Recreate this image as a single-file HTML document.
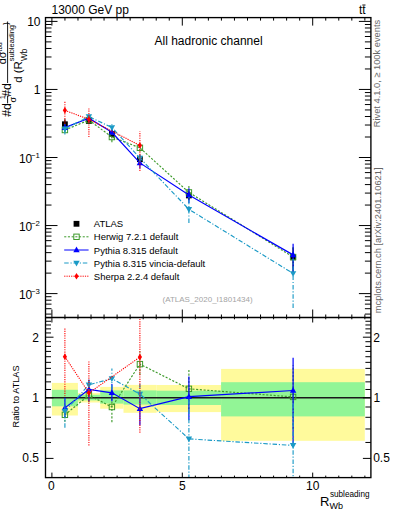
<!DOCTYPE html>
<html><head><meta charset="utf-8"><style>html,body{margin:0;padding:0;background:#fff;width:393px;height:512px;overflow:hidden}svg{display:block}text{font-family:"Liberation Sans",sans-serif}</style></head>
<body><svg width="393" height="512" viewBox="0 0 393 512" font-family="Liberation Sans, sans-serif">
<rect x="0" y="0" width="393" height="512" fill="#fff"/>
<defs>
<clipPath id="cm"><rect x="45.5" y="17.6" width="325.4" height="299.9"/></clipPath>
<clipPath id="cr"><rect x="45.5" y="317.5" width="325.4" height="160.10000000000002"/></clipPath>
</defs>
<g clip-path="url(#cr)">
<rect x="51.90" y="382.90" width="26.00" height="32.60" fill="#fffa9c"/>
<rect x="77.90" y="393.10" width="22.30" height="9.40" fill="#fffa9c"/>
<rect x="100.20" y="386.90" width="23.30" height="21.80" fill="#fffa9c"/>
<rect x="123.50" y="384.90" width="33.10" height="27.90" fill="#fffa9c"/>
<rect x="156.60" y="385.00" width="64.50" height="27.10" fill="#fffa9c"/>
<rect x="221.10" y="368.90" width="143.70" height="71.90" fill="#fffa9c"/>
<rect x="51.90" y="389.80" width="26.00" height="16.50" fill="#92f596"/>
<rect x="77.90" y="394.80" width="22.30" height="5.60" fill="#92f596"/>
<rect x="100.20" y="390.40" width="23.30" height="13.20" fill="#92f596"/>
<rect x="123.50" y="390.40" width="33.10" height="14.20" fill="#92f596"/>
<rect x="156.60" y="390.70" width="64.50" height="14.30" fill="#92f596"/>
<rect x="221.10" y="382.20" width="143.70" height="34.20" fill="#92f596"/>
</g>
<g clip-path="url(#cr)">
<line x1="45.5" y1="397.8" x2="370.9" y2="397.8" stroke="#1a1a1a" stroke-width="1.4"/>
<path d="M64.90,414.83 L88.90,395.22 L111.90,407.01 L139.90,364.12 L188.90,388.83 L293.10,396.93" fill="none" stroke="#3d9a2b" stroke-width="1.15" stroke-dasharray="2.1,1.6"/>
<line x1="64.90" y1="421.79" x2="64.90" y2="407.01" stroke="#3d9a2b" stroke-width="1.15" stroke-dasharray="2.1,1.6"/>
<line x1="88.90" y1="402.28" x2="88.90" y2="387.89" stroke="#3d9a2b" stroke-width="1.15" stroke-dasharray="2.1,1.6"/>
<line x1="111.90" y1="422.14" x2="111.90" y2="397.80" stroke="#3d9a2b" stroke-width="1.15" stroke-dasharray="2.1,1.6"/>
<line x1="139.90" y1="374.86" x2="139.90" y2="351.41" stroke="#3d9a2b" stroke-width="1.15" stroke-dasharray="2.1,1.6"/>
<line x1="188.90" y1="408.98" x2="188.90" y2="369.01" stroke="#3d9a2b" stroke-width="1.15" stroke-dasharray="2.1,1.6"/>
<line x1="293.10" y1="428.98" x2="293.10" y2="365.32" stroke="#3d9a2b" stroke-width="1.15" stroke-dasharray="2.1,1.6"/>
<rect x="62.20" y="412.13" width="5.4" height="5.4" fill="none" stroke="#3d9a2b" stroke-width="1.0"/>
<rect x="86.20" y="392.52" width="5.4" height="5.4" fill="none" stroke="#3d9a2b" stroke-width="1.0"/>
<rect x="109.20" y="404.31" width="5.4" height="5.4" fill="none" stroke="#3d9a2b" stroke-width="1.0"/>
<rect x="137.20" y="361.42" width="5.4" height="5.4" fill="none" stroke="#3d9a2b" stroke-width="1.0"/>
<rect x="186.20" y="386.13" width="5.4" height="5.4" fill="none" stroke="#3d9a2b" stroke-width="1.0"/>
<rect x="290.40" y="394.23" width="5.4" height="5.4" fill="none" stroke="#3d9a2b" stroke-width="1.0"/>
<path d="M64.90,407.89 L88.90,389.47 L111.90,392.79 L139.90,408.68 L188.90,396.67 L293.10,390.51" fill="none" stroke="#0000ff" stroke-width="1.2" />
<line x1="64.90" y1="417.31" x2="64.90" y2="397.80" stroke="#0000ff" stroke-width="1.2" />
<line x1="88.90" y1="401.37" x2="88.90" y2="379.70" stroke="#0000ff" stroke-width="1.2" />
<line x1="111.90" y1="401.37" x2="111.90" y2="384.07" stroke="#0000ff" stroke-width="1.2" />
<line x1="139.90" y1="425.31" x2="139.90" y2="393.53" stroke="#0000ff" stroke-width="1.2" />
<line x1="188.90" y1="420.31" x2="188.90" y2="376.49" stroke="#0000ff" stroke-width="1.2" />
<line x1="293.10" y1="446.94" x2="293.10" y2="357.81" stroke="#0000ff" stroke-width="1.2" />
<path d="M64.90,404.49 L68.10,410.19 L61.70,410.19 Z" fill="#0000ff"/>
<path d="M88.90,386.07 L92.10,391.77 L85.70,391.77 Z" fill="#0000ff"/>
<path d="M111.90,389.39 L115.10,395.09 L108.70,395.09 Z" fill="#0000ff"/>
<path d="M139.90,405.28 L143.10,410.98 L136.70,410.98 Z" fill="#0000ff"/>
<path d="M188.90,393.27 L192.10,398.97 L185.70,398.97 Z" fill="#0000ff"/>
<path d="M293.10,387.11 L296.30,392.81 L289.90,392.81 Z" fill="#0000ff"/>
<path d="M64.90,411.39 L88.90,384.82 L111.90,378.64 L139.90,394.04 L188.90,438.89 L293.10,445.42" fill="none" stroke="#1b9ac6" stroke-width="1.15" stroke-dasharray="4.5,1.8,1.2,1.8"/>
<line x1="64.90" y1="427.74" x2="64.90" y2="398.68" stroke="#1b9ac6" stroke-width="1.15" stroke-dasharray="4.5,1.8,1.2,1.8"/>
<line x1="88.90" y1="393.53" x2="88.90" y2="378.29" stroke="#1b9ac6" stroke-width="1.15" stroke-dasharray="4.5,1.8,1.2,1.8"/>
<line x1="111.90" y1="389.47" x2="111.90" y2="368.38" stroke="#1b9ac6" stroke-width="1.15" stroke-dasharray="4.5,1.8,1.2,1.8"/>
<line x1="139.90" y1="407.01" x2="139.90" y2="381.86" stroke="#1b9ac6" stroke-width="1.15" stroke-dasharray="4.5,1.8,1.2,1.8"/>
<line x1="188.90" y1="479.01" x2="188.90" y2="397.80" stroke="#1b9ac6" stroke-width="1.15" stroke-dasharray="4.5,1.8,1.2,1.8"/>
<line x1="293.10" y1="547.71" x2="293.10" y2="402.28" stroke="#1b9ac6" stroke-width="1.15" stroke-dasharray="4.5,1.8,1.2,1.8"/>
<path d="M64.90,414.79 L68.10,409.09 L61.70,409.09 Z" fill="#1b9ac6"/>
<path d="M88.90,388.22 L92.10,382.52 L85.70,382.52 Z" fill="#1b9ac6"/>
<path d="M111.90,382.04 L115.10,376.34 L108.70,376.34 Z" fill="#1b9ac6"/>
<path d="M139.90,397.44 L143.10,391.74 L136.70,391.74 Z" fill="#1b9ac6"/>
<path d="M188.90,442.29 L192.10,436.59 L185.70,436.59 Z" fill="#1b9ac6"/>
<path d="M293.10,448.82 L296.30,443.12 L289.90,443.12 Z" fill="#1b9ac6"/>
<path d="M64.90,356.71 L88.90,392.95 L139.90,357.09" fill="none" stroke="#ff0000" stroke-width="1.1" stroke-dasharray="1.2,1.1"/>
<line x1="64.90" y1="396.33" x2="64.90" y2="328.08" stroke="#ff0000" stroke-width="1.1" stroke-dasharray="1.2,1.1"/>
<line x1="88.90" y1="445.42" x2="88.90" y2="360.74" stroke="#ff0000" stroke-width="1.1" stroke-dasharray="1.2,1.1"/>
<line x1="139.90" y1="432.81" x2="139.90" y2="315.62" stroke="#ff0000" stroke-width="1.1" stroke-dasharray="1.2,1.1"/>
<path d="M64.90,353.41 L67.00,356.71 L64.90,360.01 L62.80,356.71 Z" fill="#ff0000"/>
<path d="M88.90,389.65 L91.00,392.95 L88.90,396.25 L86.80,392.95 Z" fill="#ff0000"/>
<path d="M139.90,353.79 L142.00,357.09 L139.90,360.39 L137.80,357.09 Z" fill="#ff0000"/>
</g>
<g clip-path="url(#cm)">
<line x1="64.90" y1="130.24" x2="64.90" y2="119.22" stroke="#000" stroke-width="1.2"/>
<rect x="62.00" y="121.35" width="5.8" height="5.8" fill="#000"/>
<line x1="88.90" y1="122.58" x2="88.90" y2="119.40" stroke="#000" stroke-width="1.2"/>
<rect x="86.00" y="118.09" width="5.8" height="5.8" fill="#000"/>
<line x1="111.90" y1="137.62" x2="111.90" y2="130.25" stroke="#000" stroke-width="1.2"/>
<rect x="109.00" y="131.03" width="5.8" height="5.8" fill="#000"/>
<line x1="139.90" y1="164.27" x2="139.90" y2="154.84" stroke="#000" stroke-width="1.2"/>
<rect x="137.00" y="156.30" width="5.8" height="5.8" fill="#000"/>
<line x1="188.90" y1="200.27" x2="188.90" y2="191.11" stroke="#000" stroke-width="1.2"/>
<rect x="186.00" y="192.54" width="5.8" height="5.8" fill="#000"/>
<line x1="293.10" y1="271.88" x2="293.10" y2="247.58" stroke="#000" stroke-width="1.2"/>
<rect x="290.20" y="254.45" width="5.8" height="5.8" fill="#000"/>
<path d="M64.90,130.01 L88.90,120.11 L111.90,137.04 L139.90,147.82 L188.90,192.41 L293.10,257.05" fill="none" stroke="#3d9a2b" stroke-width="1.15" stroke-dasharray="2.1,1.6"/>
<line x1="64.90" y1="132.36" x2="64.90" y2="127.37" stroke="#3d9a2b" stroke-width="1.15" stroke-dasharray="2.1,1.6"/>
<line x1="88.90" y1="122.50" x2="88.90" y2="117.64" stroke="#3d9a2b" stroke-width="1.15" stroke-dasharray="2.1,1.6"/>
<line x1="111.90" y1="142.16" x2="111.90" y2="133.93" stroke="#3d9a2b" stroke-width="1.15" stroke-dasharray="2.1,1.6"/>
<line x1="139.90" y1="151.45" x2="139.90" y2="143.52" stroke="#3d9a2b" stroke-width="1.15" stroke-dasharray="2.1,1.6"/>
<line x1="188.90" y1="199.22" x2="188.90" y2="185.71" stroke="#3d9a2b" stroke-width="1.15" stroke-dasharray="2.1,1.6"/>
<line x1="293.10" y1="267.89" x2="293.10" y2="246.36" stroke="#3d9a2b" stroke-width="1.15" stroke-dasharray="2.1,1.6"/>
<rect x="62.20" y="127.31" width="5.4" height="5.4" fill="none" stroke="#3d9a2b" stroke-width="1.0"/>
<rect x="86.20" y="117.41" width="5.4" height="5.4" fill="none" stroke="#3d9a2b" stroke-width="1.0"/>
<rect x="109.20" y="134.34" width="5.4" height="5.4" fill="none" stroke="#3d9a2b" stroke-width="1.0"/>
<rect x="137.20" y="145.12" width="5.4" height="5.4" fill="none" stroke="#3d9a2b" stroke-width="1.0"/>
<rect x="186.20" y="189.71" width="5.4" height="5.4" fill="none" stroke="#3d9a2b" stroke-width="1.0"/>
<rect x="290.40" y="254.35" width="5.4" height="5.4" fill="none" stroke="#3d9a2b" stroke-width="1.0"/>
<path d="M64.90,127.66 L88.90,118.17 L111.90,132.24 L139.90,162.88 L188.90,195.06 L293.10,254.88" fill="none" stroke="#0000ff" stroke-width="1.2" />
<line x1="64.90" y1="130.85" x2="64.90" y2="124.25" stroke="#0000ff" stroke-width="1.2" />
<line x1="88.90" y1="122.19" x2="88.90" y2="114.87" stroke="#0000ff" stroke-width="1.2" />
<line x1="111.90" y1="135.14" x2="111.90" y2="129.29" stroke="#0000ff" stroke-width="1.2" />
<line x1="139.90" y1="168.50" x2="139.90" y2="157.76" stroke="#0000ff" stroke-width="1.2" />
<line x1="188.90" y1="203.05" x2="188.90" y2="188.24" stroke="#0000ff" stroke-width="1.2" />
<line x1="293.10" y1="273.96" x2="293.10" y2="243.83" stroke="#0000ff" stroke-width="1.2" />
<path d="M64.90,124.26 L68.10,129.96 L61.70,129.96 Z" fill="#0000ff"/>
<path d="M88.90,114.77 L92.10,120.47 L85.70,120.47 Z" fill="#0000ff"/>
<path d="M111.90,128.84 L115.10,134.54 L108.70,134.54 Z" fill="#0000ff"/>
<path d="M139.90,159.48 L143.10,165.18 L136.70,165.18 Z" fill="#0000ff"/>
<path d="M188.90,191.66 L192.10,197.36 L185.70,197.36 Z" fill="#0000ff"/>
<path d="M293.10,251.48 L296.30,257.18 L289.90,257.18 Z" fill="#0000ff"/>
<path d="M64.90,128.85 L88.90,116.60 L111.90,127.45 L139.90,157.93 L188.90,209.33 L293.10,273.44" fill="none" stroke="#1b9ac6" stroke-width="1.15" stroke-dasharray="4.5,1.8,1.2,1.8"/>
<line x1="64.90" y1="134.38" x2="64.90" y2="124.55" stroke="#1b9ac6" stroke-width="1.15" stroke-dasharray="4.5,1.8,1.2,1.8"/>
<line x1="88.90" y1="119.55" x2="88.90" y2="114.39" stroke="#1b9ac6" stroke-width="1.15" stroke-dasharray="4.5,1.8,1.2,1.8"/>
<line x1="111.90" y1="131.11" x2="111.90" y2="123.99" stroke="#1b9ac6" stroke-width="1.15" stroke-dasharray="4.5,1.8,1.2,1.8"/>
<line x1="139.90" y1="162.32" x2="139.90" y2="153.81" stroke="#1b9ac6" stroke-width="1.15" stroke-dasharray="4.5,1.8,1.2,1.8"/>
<line x1="188.90" y1="222.89" x2="188.90" y2="195.44" stroke="#1b9ac6" stroke-width="1.15" stroke-dasharray="4.5,1.8,1.2,1.8"/>
<line x1="293.10" y1="308.02" x2="293.10" y2="258.86" stroke="#1b9ac6" stroke-width="1.15" stroke-dasharray="4.5,1.8,1.2,1.8"/>
<path d="M64.90,132.25 L68.10,126.55 L61.70,126.55 Z" fill="#1b9ac6"/>
<path d="M88.90,120.00 L92.10,114.30 L85.70,114.30 Z" fill="#1b9ac6"/>
<path d="M111.90,130.85 L115.10,125.15 L108.70,125.15 Z" fill="#1b9ac6"/>
<path d="M139.90,161.33 L143.10,155.63 L136.70,155.63 Z" fill="#1b9ac6"/>
<path d="M188.90,212.73 L192.10,207.03 L185.70,207.03 Z" fill="#1b9ac6"/>
<path d="M293.10,276.84 L296.30,271.14 L289.90,271.14 Z" fill="#1b9ac6"/>
<path d="M64.90,110.36 L88.90,119.35 L139.90,145.44" fill="none" stroke="#ff0000" stroke-width="1.1" stroke-dasharray="1.2,1.1"/>
<line x1="64.90" y1="123.76" x2="64.90" y2="100.68" stroke="#ff0000" stroke-width="1.1" stroke-dasharray="1.2,1.1"/>
<line x1="88.90" y1="137.09" x2="88.90" y2="108.46" stroke="#ff0000" stroke-width="1.1" stroke-dasharray="1.2,1.1"/>
<line x1="139.90" y1="171.04" x2="139.90" y2="131.42" stroke="#ff0000" stroke-width="1.1" stroke-dasharray="1.2,1.1"/>
<path d="M64.90,107.06 L67.00,110.36 L64.90,113.66 L62.80,110.36 Z" fill="#ff0000"/>
<path d="M88.90,116.05 L91.00,119.35 L88.90,122.65 L86.80,119.35 Z" fill="#ff0000"/>
<path d="M139.90,142.14 L142.00,145.44 L139.90,148.74 L137.80,145.44 Z" fill="#ff0000"/>
</g>
<rect x="45.5" y="17.6" width="325.4" height="460.0" fill="none" stroke="#000" stroke-width="1.35"/>
<line x1="45.5" y1="317.5" x2="370.9" y2="317.5" stroke="#000" stroke-width="1.35"/>
<path d="M51.90,17.60L51.90,25.60M51.90,317.50L51.90,309.50M51.90,317.50L51.90,322.50M51.90,477.60L51.90,472.60M64.94,17.60L64.94,20.60M64.94,317.50L64.94,314.50M64.94,317.50L64.94,319.30M64.94,477.60L64.94,475.60M77.98,17.60L77.98,20.60M77.98,317.50L77.98,314.50M77.98,317.50L77.98,319.30M77.98,477.60L77.98,475.60M91.02,17.60L91.02,20.60M91.02,317.50L91.02,314.50M91.02,317.50L91.02,319.30M91.02,477.60L91.02,475.60M104.06,17.60L104.06,20.60M104.06,317.50L104.06,314.50M104.06,317.50L104.06,319.30M104.06,477.60L104.06,475.60M117.10,17.60L117.10,20.60M117.10,317.50L117.10,314.50M117.10,317.50L117.10,319.30M117.10,477.60L117.10,475.60M130.14,17.60L130.14,20.60M130.14,317.50L130.14,314.50M130.14,317.50L130.14,319.30M130.14,477.60L130.14,475.60M143.18,17.60L143.18,20.60M143.18,317.50L143.18,314.50M143.18,317.50L143.18,319.30M143.18,477.60L143.18,475.60M156.22,17.60L156.22,20.60M156.22,317.50L156.22,314.50M156.22,317.50L156.22,319.30M156.22,477.60L156.22,475.60M169.26,17.60L169.26,20.60M169.26,317.50L169.26,314.50M169.26,317.50L169.26,319.30M169.26,477.60L169.26,475.60M182.30,17.60L182.30,25.60M182.30,317.50L182.30,309.50M182.30,317.50L182.30,322.50M182.30,477.60L182.30,472.60M195.34,17.60L195.34,20.60M195.34,317.50L195.34,314.50M195.34,317.50L195.34,319.30M195.34,477.60L195.34,475.60M208.38,17.60L208.38,20.60M208.38,317.50L208.38,314.50M208.38,317.50L208.38,319.30M208.38,477.60L208.38,475.60M221.42,17.60L221.42,20.60M221.42,317.50L221.42,314.50M221.42,317.50L221.42,319.30M221.42,477.60L221.42,475.60M234.46,17.60L234.46,20.60M234.46,317.50L234.46,314.50M234.46,317.50L234.46,319.30M234.46,477.60L234.46,475.60M247.50,17.60L247.50,20.60M247.50,317.50L247.50,314.50M247.50,317.50L247.50,319.30M247.50,477.60L247.50,475.60M260.54,17.60L260.54,20.60M260.54,317.50L260.54,314.50M260.54,317.50L260.54,319.30M260.54,477.60L260.54,475.60M273.58,17.60L273.58,20.60M273.58,317.50L273.58,314.50M273.58,317.50L273.58,319.30M273.58,477.60L273.58,475.60M286.62,17.60L286.62,20.60M286.62,317.50L286.62,314.50M286.62,317.50L286.62,319.30M286.62,477.60L286.62,475.60M299.66,17.60L299.66,20.60M299.66,317.50L299.66,314.50M299.66,317.50L299.66,319.30M299.66,477.60L299.66,475.60M312.70,17.60L312.70,25.60M312.70,317.50L312.70,309.50M312.70,317.50L312.70,322.50M312.70,477.60L312.70,472.60M325.74,17.60L325.74,20.60M325.74,317.50L325.74,314.50M325.74,317.50L325.74,319.30M325.74,477.60L325.74,475.60M338.78,17.60L338.78,20.60M338.78,317.50L338.78,314.50M338.78,317.50L338.78,319.30M338.78,477.60L338.78,475.60M351.82,17.60L351.82,20.60M351.82,317.50L351.82,314.50M351.82,317.50L351.82,319.30M351.82,477.60L351.82,475.60M364.86,17.60L364.86,20.60M364.86,317.50L364.86,314.50M364.86,317.50L364.86,319.30M364.86,477.60L364.86,475.60M45.50,314.09L51.50,314.09M370.90,314.09L364.90,314.09M45.50,308.70L51.50,308.70M370.90,308.70L364.90,308.70M45.50,304.14L51.50,304.14M370.90,304.14L364.90,304.14M45.50,300.19L51.50,300.19M370.90,300.19L364.90,300.19M45.50,296.71L51.50,296.71M370.90,296.71L364.90,296.71M45.50,293.60L57.50,293.60M370.90,293.60L358.90,293.60M45.50,273.11L51.50,273.11M370.90,273.11L364.90,273.11M45.50,261.13L51.50,261.13M370.90,261.13L364.90,261.13M45.50,252.63L51.50,252.63M370.90,252.63L364.90,252.63M45.50,246.04L51.50,246.04M370.90,246.04L364.90,246.04M45.50,240.65L51.50,240.65M370.90,240.65L364.90,240.65M45.50,236.09L51.50,236.09M370.90,236.09L364.90,236.09M45.50,232.14L51.50,232.14M370.90,232.14L364.90,232.14M45.50,228.66L51.50,228.66M370.90,228.66L364.90,228.66M45.50,225.55L57.50,225.55M370.90,225.55L358.90,225.55M45.50,205.06L51.50,205.06M370.90,205.06L364.90,205.06M45.50,193.08L51.50,193.08M370.90,193.08L364.90,193.08M45.50,184.58L51.50,184.58M370.90,184.58L364.90,184.58M45.50,177.99L51.50,177.99M370.90,177.99L364.90,177.99M45.50,172.60L51.50,172.60M370.90,172.60L364.90,172.60M45.50,168.04L51.50,168.04M370.90,168.04L364.90,168.04M45.50,164.09L51.50,164.09M370.90,164.09L364.90,164.09M45.50,160.61L51.50,160.61M370.90,160.61L364.90,160.61M45.50,157.50L57.50,157.50M370.90,157.50L358.90,157.50M45.50,137.01L51.50,137.01M370.90,137.01L364.90,137.01M45.50,125.03L51.50,125.03M370.90,125.03L364.90,125.03M45.50,116.53L51.50,116.53M370.90,116.53L364.90,116.53M45.50,109.94L51.50,109.94M370.90,109.94L364.90,109.94M45.50,104.55L51.50,104.55M370.90,104.55L364.90,104.55M45.50,99.99L51.50,99.99M370.90,99.99L364.90,99.99M45.50,96.04L51.50,96.04M370.90,96.04L364.90,96.04M45.50,92.56L51.50,92.56M370.90,92.56L364.90,92.56M45.50,89.45L57.50,89.45M370.90,89.45L358.90,89.45M45.50,68.96L51.50,68.96M370.90,68.96L364.90,68.96M45.50,56.98L51.50,56.98M370.90,56.98L364.90,56.98M45.50,48.48L51.50,48.48M370.90,48.48L364.90,48.48M45.50,41.89L51.50,41.89M370.90,41.89L364.90,41.89M45.50,36.50L51.50,36.50M370.90,36.50L364.90,36.50M45.50,31.94L51.50,31.94M370.90,31.94L364.90,31.94M45.50,27.99L51.50,27.99M370.90,27.99L364.90,27.99M45.50,24.51L51.50,24.51M370.90,24.51L364.90,24.51M45.50,21.40L57.50,21.40M370.90,21.40L358.90,21.40M45.50,458.40L53.50,458.40M370.90,458.40L362.90,458.40M45.50,442.46L51.00,442.46M370.90,442.46L365.40,442.46M45.50,428.98L51.00,428.98M370.90,428.98L365.40,428.98M45.50,417.31L51.00,417.31M370.90,417.31L365.40,417.31M45.50,407.01L51.00,407.01M370.90,407.01L365.40,407.01M45.50,397.80L53.50,397.80M370.90,397.80L362.90,397.80M45.50,389.47L51.00,389.47M370.90,389.47L365.40,389.47M45.50,381.86L51.00,381.86M370.90,381.86L365.40,381.86M45.50,374.86L51.00,374.86M370.90,374.86L365.40,374.86M45.50,368.38L51.00,368.38M370.90,368.38L365.40,368.38M45.50,362.35L51.00,362.35M370.90,362.35L365.40,362.35M45.50,356.71L51.00,356.71M370.90,356.71L365.40,356.71M45.50,351.41L51.00,351.41M370.90,351.41L365.40,351.41M45.50,346.41L51.00,346.41M370.90,346.41L365.40,346.41M45.50,341.69L51.00,341.69M370.90,341.69L365.40,341.69M45.50,337.20L53.50,337.20M370.90,337.20L362.90,337.20M45.50,332.94L51.00,332.94M370.90,332.94L365.40,332.94M45.50,328.87L51.00,328.87M370.90,328.87L365.40,328.87M45.50,324.98L51.00,324.98M370.90,324.98L365.40,324.98M45.50,321.26L51.00,321.26M370.90,321.26L365.40,321.26M45.50,317.69L51.00,317.69M370.90,317.69L365.40,317.69" stroke="#000" stroke-width="1.0" fill="none"/>
<text x="40.50" y="25.80" font-size="12" text-anchor="end" fill="#000" >10</text>
<text x="40.50" y="94.00" font-size="12" text-anchor="end" fill="#000" >1</text>
<text x="32.3" y="162.9" font-size="12" text-anchor="end">10</text>
<text x="31.0" y="157.5" font-size="7.8">−1</text>
<text x="32.3" y="230.9" font-size="12" text-anchor="end">10</text>
<text x="31.0" y="225.5" font-size="7.8">−2</text>
<text x="32.3" y="298.9" font-size="12" text-anchor="end">10</text>
<text x="31.0" y="293.5" font-size="7.8">−3</text>
<text x="39.00" y="341.50" font-size="12" text-anchor="end" fill="#000" >2</text>
<text x="39.00" y="402.20" font-size="12" text-anchor="end" fill="#000" >1</text>
<text x="39.00" y="462.40" font-size="12" text-anchor="end" fill="#000" >0.5</text>
<text x="373.20" y="341.50" font-size="12" text-anchor="start" fill="#000" >2</text>
<text x="373.60" y="402.20" font-size="12" text-anchor="start" fill="#000" >1</text>
<text x="373.20" y="462.40" font-size="12" text-anchor="start" fill="#000" >0.5</text>
<text x="51.30" y="490.00" font-size="12" text-anchor="middle" fill="#000" >0</text>
<text x="182.30" y="490.00" font-size="12" text-anchor="middle" fill="#000" >5</text>
<text x="312.70" y="490.00" font-size="12" text-anchor="middle" fill="#000" >10</text>
<text x="51.50" y="13.80" font-size="12" text-anchor="start" fill="#000" >13000 GeV pp</text>
<text x="359" y="13.8" font-size="12">t<tspan>t</tspan></text>
<line x1="362.3" y1="5" x2="365.5" y2="5" stroke="#000" stroke-width="0.9"/>
<text x="154.50" y="44.80" font-size="12" text-anchor="start" fill="#000" >All hadronic channel</text>
<rect x="73.60" y="220.90" width="5.8" height="5.8" fill="#000"/>
<line x1="64.2" y1="236.8" x2="88.6" y2="236.8" stroke="#3d9a2b" stroke-width="1.0" stroke-dasharray="2.1,1.6"/>
<rect x="73.80" y="234.10" width="5.4" height="5.4" fill="none" stroke="#3d9a2b" stroke-width="1.0"/>
<line x1="64.2" y1="250.0" x2="88.6" y2="250.0" stroke="#0000ff" stroke-width="1.0" />
<path d="M76.50,246.60 L79.70,252.30 L73.30,252.30 Z" fill="#0000ff"/>
<line x1="64.2" y1="263.0" x2="88.6" y2="263.0" stroke="#1b9ac6" stroke-width="1.0" stroke-dasharray="4.5,1.8,1.2,1.8"/>
<path d="M76.50,266.40 L79.70,260.70 L73.30,260.70 Z" fill="#1b9ac6"/>
<line x1="64.2" y1="276.2" x2="88.6" y2="276.2" stroke="#ff0000" stroke-width="1.0" stroke-dasharray="1.2,1.1"/>
<path d="M76.50,272.90 L78.60,276.20 L76.50,279.50 L74.40,276.20 Z" fill="#ff0000"/>
<text x="93.80" y="227.30" font-size="9.5" text-anchor="start" fill="#000" >ATLAS</text>
<text x="93.80" y="240.30" font-size="9.5" text-anchor="start" fill="#000" >Herwig 7.2.1 default</text>
<text x="93.80" y="253.50" font-size="9.5" text-anchor="start" fill="#000" >Pythia 8.315 default</text>
<text x="93.80" y="266.50" font-size="9.5" text-anchor="start" fill="#000" >Pythia 8.315 vincia-default</text>
<text x="93.80" y="279.70" font-size="9.5" text-anchor="start" fill="#000" >Sherpa 2.2.4 default</text>
<text x="162.50" y="301.80" font-size="8" text-anchor="start" fill="#a4a4a4" >(ATLAS_2020_I1801434)</text>
<text transform="translate(379.6,127.3) rotate(-90)" font-size="9.3" fill="#666">Rivet 4.1.0, ≥ 100k events</text>
<text transform="translate(380.6,313.2) rotate(-90)" font-size="9.3" fill="#666">mcplots.cern.ch [arXiv:2401.10621]</text>
<text transform="translate(18.5,427.5) rotate(-90)" font-size="9.2">Ratio to ATLAS</text>
<text x="320" y="506" font-size="13">R<tspan dy="3" font-size="9">Wb</tspan><tspan dy="-12" dx="-13" font-size="8.2">subleading</tspan></text>
<text transform="translate(11.0,116.8) rotate(-90)" font-size="12.3">#d</text>
<text transform="translate(5.4,99.2) rotate(-90)" font-size="7.5">1</text>
<line x1="7.6" y1="95.8" x2="7.6" y2="103.4" stroke="#000" stroke-width="0.9"/>
<text transform="translate(16.3,102.6) rotate(-90)" font-size="9">σ</text>
<text transform="translate(11.0,96.8) rotate(-90)" font-size="12.3">#d</text>
<line x1="7.6" y1="21.5" x2="7.6" y2="83" stroke="#000" stroke-width="0.9"/>
<text transform="translate(5.9,64.3) rotate(-90)" font-size="11">dσ<tspan dy="-4" font-size="6.5">tbd</tspan></text>
<text transform="translate(21.8,82.8) rotate(-90)" font-size="11.5">d (R<tspan dy="5" font-size="8.2">Wb</tspan><tspan dy="-12.5" dx="-12.5" font-size="7.5">subleading</tspan></text>
<text transform="translate(8.2,25) rotate(-90)" font-size="8">}</text>
</svg></body></html>
